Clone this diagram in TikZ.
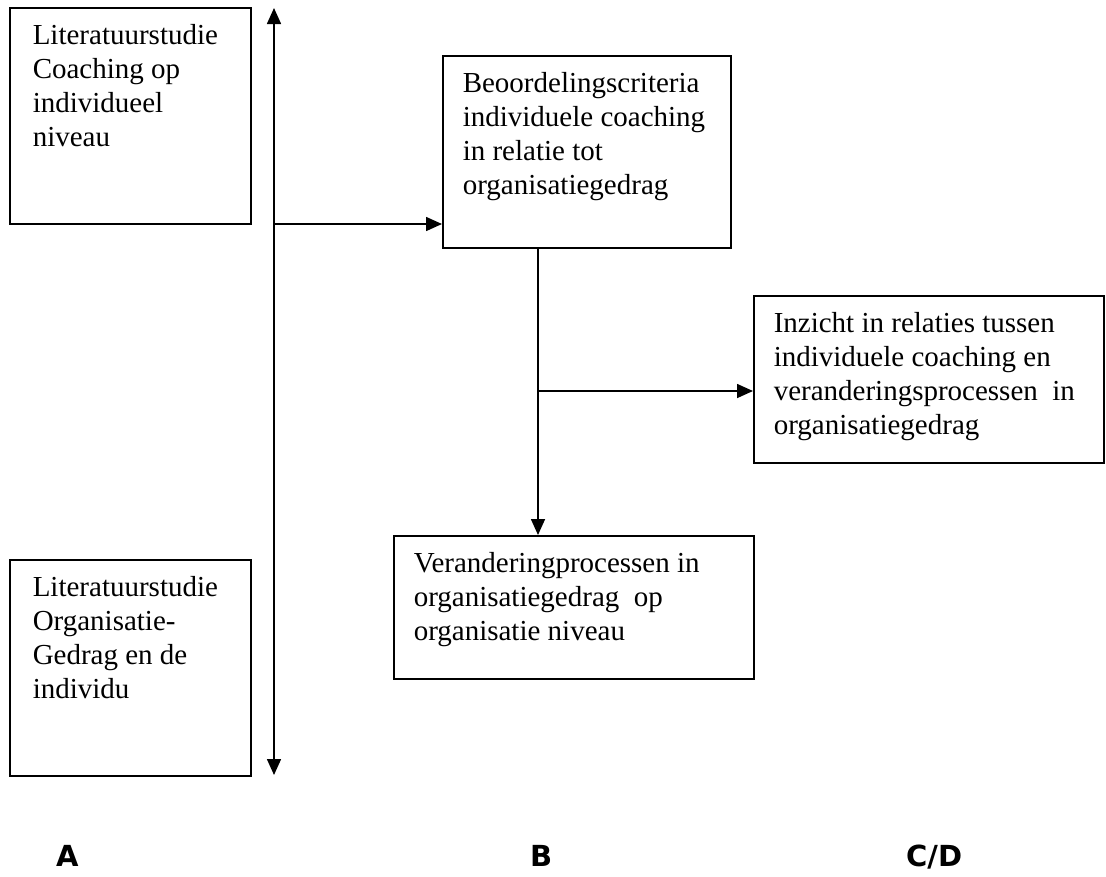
\documentclass[tikz,border=0pt]{standalone}
\usepackage{fontspec}
\setmainfont{Liberation Serif}
\newfontfamily\labfont{DejaVu Sans}
\usepackage{tikz}
\usetikzlibrary{arrows.meta}
\definecolor{linecol}{RGB}{0,0,0}

\begin{document}
\begin{tikzpicture}[x=1pt,y=-1pt,
  box/.style={draw=linecol,line width=1.5pt,anchor=north west,inner xsep=20pt,inner ysep=13pt,
    font=\fontsize{29}{34}\selectfont},
  conn/.style={draw=linecol,line width=1.6pt,-{Triangle[length=16pt,width=14pt]}},
  lab/.style={anchor=base west,inner sep=0pt,font=\labfont\bfseries\fontsize{29}{34}\selectfont}]
\useasboundingbox (0,0) rectangle (1106,876);
\node[box,inner xsep=23pt] (a1) at (9,7) {\parbox[c][190pt][t]{195pt}{\raggedright\strut Literatuurstudie\\Coaching op\\individueel\\niveau}};
\node[box,inner xsep=23pt] (a2) at (9,559) {\parbox[c][190pt][t]{195pt}{\raggedright\strut Literatuurstudie\\Organisatie-\\Gedrag en de\\individu}};
\node[box] (b1) at (442,55) {\parbox[c][166pt][t]{248pt}{\raggedright\strut Beoordelingscriteria\\individuele coaching\\in relatie tot\\organisatiegedrag}};
\node[box] (b2) at (393,535) {\parbox[c][117pt][t]{320pt}{\raggedright\strut Veranderingprocessen in\\organisatiegedrag\ \ op\\organisatie niveau}};
\node[box] (c) at (753,295) {\parbox[c][141pt][t]{310pt}{\raggedright\strut Inzicht in relaties tussen\\individuele coaching en\\veranderingsprocessen\ \ in\\organisatiegedrag}};
\coordinate (top) at (274,8);
\coordinate (bot) at (274,775);
\coordinate (j1) at (274,224);
\coordinate (j2) at (538,391);
\draw[conn,{Triangle[length=16pt,width=14pt]}-{Triangle[length=16pt,width=14pt]}] (top) -- (bot);
\draw[conn] (j1) -- (j1 -| b1.west);
\draw[conn] (j2 |- b1.south) -- (j2 |- b2.north);
\draw[conn] (j2) -- (j2 -| c.west);
\node[lab] (la) at (56,866) {A};
\node[lab] (lb) at (530,866) {B};
\node[lab] (lcd) at (906,866) {C/D};
\end{tikzpicture}
\end{document}
